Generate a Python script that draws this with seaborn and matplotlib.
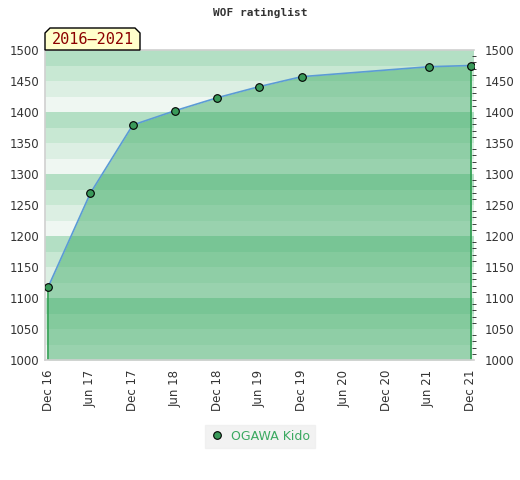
import pandas as pd
import matplotlib
matplotlib.use('Agg')
import matplotlib.pyplot as plt
import matplotlib.dates as mdates
from matplotlib.patches import Polygon
from matplotlib.ticker import MultipleLocator
import seaborn as sns

# data
dates = ['2016-12-01', '2017-06-01', '2017-12-01', '2018-06-01', '2018-12-01',
         '2019-06-01', '2019-12-01', '2021-06-01', '2021-12-01']
ratings = [1118, 1269, 1379, 1402, 1423, 1441, 1457, 1473, 1475]
player = 'OGAWA Kido'
period = '2016\u20132021'

df = pd.DataFrame({'date': pd.to_datetime(dates), 'rating': ratings, 'player': player})

sns.set_theme(style='white')
plt.rcParams['font.family'] = ['DejaVu Sans']

W, H = 520, 480
fig = plt.figure(figsize=(W / 100, H / 100), dpi=100)
ax = fig.add_axes([45 / W, 1 - 360 / H, 429 / W, 310 / H])

# striped background, 4 shades per 100 points
band_colors = ['#eff7f2', '#dcefe3', '#c8e8d3', '#b3dfc4']
for lo in range(1000, 1500, 25):
    ax.axhspan(lo, lo + 25, color=band_colors[(lo // 25) % 4], lw=0, zorder=0)

# area under the rating line
ax.fill_between(df['date'], 1000, df['rating'], color='#32a75d', alpha=0.45, lw=0, zorder=1)
ax.vlines([df['date'].iloc[0], df['date'].iloc[-1]], 1000,
          [df['rating'].iloc[0], df['rating'].iloc[-1]], color='#2e9e50', lw=1.2, zorder=2)

sns.lineplot(data=df, x='date', y='rating', ax=ax, color='#5b9bd5', lw=1.2,
             marker='o', markersize=5.5, markerfacecolor='#3a9a5a',
             markeredgecolor='black', markeredgewidth=0.8, zorder=3, legend=False)

ax.set_xlim(pd.Timestamp('2016-11-17'), pd.Timestamp('2021-12-14'))
ax.set_ylim(1000, 1500)
ax.set_xlabel('')
ax.set_ylabel('')

ax.xaxis.set_major_locator(mdates.MonthLocator(bymonth=[6, 12]))
ax.xaxis.set_major_formatter(mdates.DateFormatter('%b %y'))
ax.tick_params(axis='x', rotation=90, labelsize=8.5, colors='#333333', length=0, pad=7)
ax.yaxis.set_major_locator(MultipleLocator(50))
ax.tick_params(axis='y', labelsize=8.5, colors='#333333', length=0, pad=4,
               labelleft=True, labelright=False)

# right axis: labels plus small minor ticks every 10
ax2 = ax.twinx()
ax2.set_ylim(1000, 1500)
ax2.yaxis.set_major_locator(MultipleLocator(50))
ax2.yaxis.set_minor_locator(MultipleLocator(10))
ax2.tick_params(axis='y', which='major', length=0, pad=8, labelsize=8.5, colors='#333333')
ax2.tick_params(axis='y', which='minor', direction='inout', length=3.5, width=0.6,
                color='#222222')
for s in ax2.spines.values():
    s.set_visible(False)

for side in ['left', 'top', 'bottom']:
    ax.spines[side].set_color('#d0d0d0')
    ax.spines[side].set_linewidth(1.2)
ax.spines['right'].set_visible(False)

fig.text(0.5, 1 - 13 / H, 'WOF ratinglist', ha='center', va='center',
         family='DejaVu Sans Mono', fontsize=8, fontweight='bold', color='#333333')

# period tag with cut top corners, sitting on the plot's top edge
x0, x1, y0, y1, c = 45, 140, H - 50, H - 28, 5
tag = Polygon([(x0, y0), (x0, y1 - c), (x0 + c, y1), (x1 - c, y1), (x1, y1 - c), (x1, y0)],
              closed=True, transform=None, facecolor='#ffffcc', edgecolor='black', lw=1.0)
fig.patches.append(tag)
fig.text((x0 + x1) / 2 / W, (y0 + y1) / 2 / H - 0.001, period, ha='center', va='center',
         family='DejaVu Sans Mono', fontsize=11, color='#8b0000')

handle = plt.Line2D([], [], ls='none', marker='o', markersize=5.5, markerfacecolor='#3a9a5a',
                    markeredgecolor='black', markeredgewidth=0.8)
leg = fig.legend([handle], [player], loc='center', bbox_to_anchor=(0.5, 1 - 436 / H),
                 frameon=True, fontsize=9, handletextpad=0.5, borderpad=0.4,
                 handlelength=1.2, fancybox=False)
leg.get_frame().set_facecolor('#efefef')
leg.get_frame().set_edgecolor('#efefef')
for t in leg.get_texts():
    t.set_color('#3aa960')

fig.savefig('out.png', dpi=100)
